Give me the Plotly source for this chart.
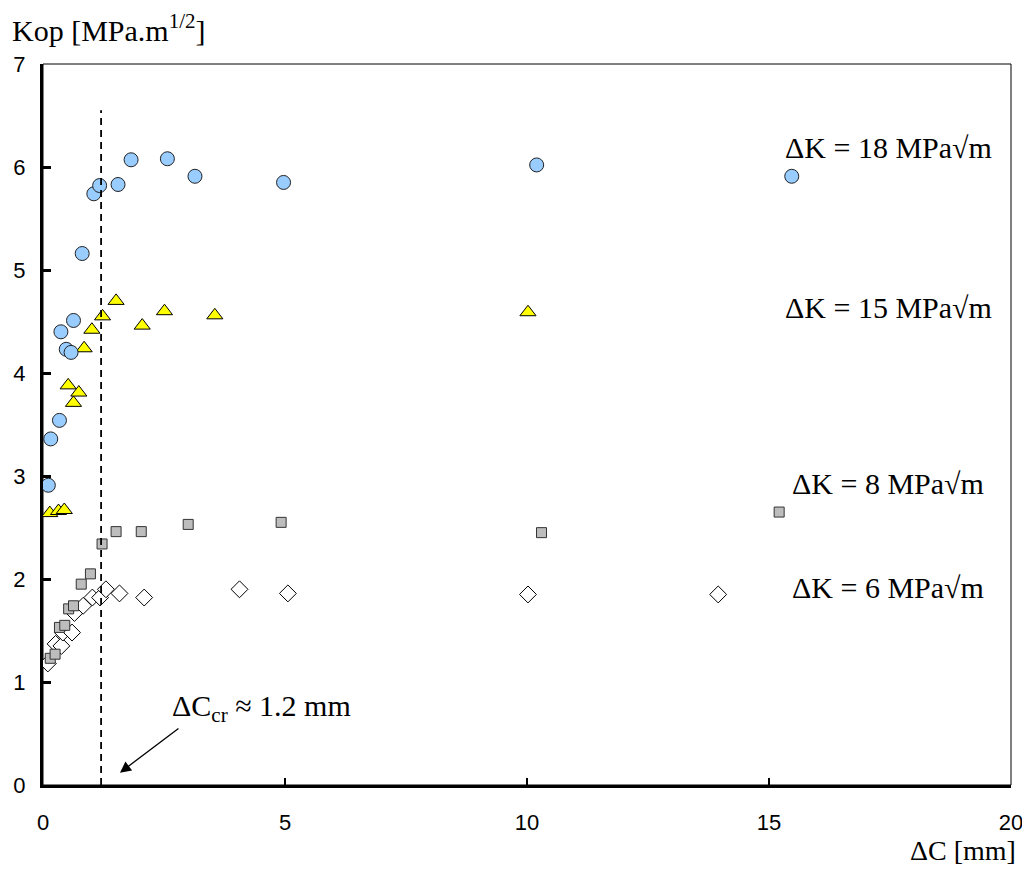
import plotly.graph_objects as go

# ---- data ----
dk18_x = [0.11, 0.16, 0.34, 0.37, 0.48, 0.58, 0.63, 0.81, 1.05, 1.17, 1.55, 1.82, 2.57, 3.14, 4.97, 10.2, 15.47]
dk18_y = [2.91, 3.36, 3.54, 4.40, 4.23, 4.20, 4.51, 5.16, 5.74, 5.82, 5.83, 6.07, 6.08, 5.91, 5.85, 6.02, 5.91]

dk15_x = [0.14, 0.32, 0.44, 0.52, 0.63, 0.74, 0.85, 1.01, 1.23, 1.51, 2.05, 2.51, 3.55, 10.02]
dk15_y = [2.64, 2.66, 2.67, 3.88, 3.71, 3.81, 4.24, 4.42, 4.55, 4.70, 4.46, 4.60, 4.56, 4.59]

dk8_x = [0.15, 0.25, 0.34, 0.45, 0.53, 0.63, 0.79, 0.98, 1.22, 1.51, 2.03, 3.00, 4.92, 10.3, 15.21]
dk8_y = [1.23, 1.27, 1.53, 1.55, 1.71, 1.74, 1.95, 2.05, 2.34, 2.46, 2.46, 2.53, 2.55, 2.45, 2.65]

dk6_x = [0.10, 0.26, 0.38, 0.41, 0.60, 0.65, 0.83, 1.02, 1.18, 1.30, 1.58, 2.09, 4.06, 5.06, 10.02, 13.95]
dk6_y = [1.18, 1.37, 1.35, 1.48, 1.48, 1.67, 1.74, 1.82, 1.82, 1.90, 1.86, 1.82, 1.90, 1.86, 1.85, 1.85]

series_labels = ["ΔK = 18 MPa√m", "ΔK = 15 MPa√m", "ΔK = 8 MPa√m", "ΔK = 6 MPa√m"]
label_y = [6.19, 4.64, 2.93, 1.92]

dc_cr = 1.2
x_ticks = [0, 5, 10, 15, 20]
y_ticks = [0, 1, 2, 3, 4, 5, 6, 7]

SERIF = "Liberation Serif, Times New Roman, serif"
SANS = "Liberation Sans, Arial, sans-serif"

fig = go.Figure()

fig.add_trace(go.Scatter(x=dk6_x, y=dk6_y, mode="markers",
                         marker=dict(symbol="diamond", size=13, color="white",
                                     line=dict(color="black", width=1))))
fig.add_trace(go.Scatter(x=dk8_x, y=dk8_y, mode="markers",
                         marker=dict(symbol="square", size=10, color="#BDBDBD",
                                     line=dict(color="#333333", width=1))))
fig.add_trace(go.Scatter(x=dk15_x, y=dk15_y, mode="markers",
                         marker=dict(symbol="triangle-up", size=14, color="#FFFF00",
                                     line=dict(color="black", width=1))))
fig.add_trace(go.Scatter(x=dk18_x, y=dk18_y, mode="markers",
                         marker=dict(symbol="circle", size=14, color="#99CCFF",
                                     line=dict(color="#222222", width=1))))

# critical crack extension dashed line
fig.add_trace(go.Scatter(x=[dc_cr, dc_cr], y=[0, 6.55], mode="lines",
                         line=dict(color="black", width=1.8, dash="7px,5px"),
                         hoverinfo="skip"))

# thin frame on top/right
fig.add_shape(type="rect", xref="paper", yref="paper", x0=0, y0=0, x1=1, y1=1,
              line=dict(color="black", width=1), layer="below")

for lab, ly in zip(series_labels, label_y):
    fig.add_annotation(x=17.46, y=ly, xref="x", yref="y", text=lab, showarrow=False,
                       xanchor="center", yanchor="middle",
                       font=dict(family=SERIF, size=30, color="black"))

fig.add_annotation(x=1.59, y=0.12, ax=2.83, ay=0.56, xref="x", yref="y",
                   axref="x", ayref="y", text="", showarrow=True,
                   arrowhead=2, arrowsize=1.7, arrowwidth=1.3, arrowcolor="black")
fig.add_annotation(x=4.52, y=0.75, xref="x", yref="y",
                   text="ΔC<sub>cr</sub> ≈ 1.2 mm", showarrow=False,
                   font=dict(family=SERIF, size=30, color="black"))

fig.add_annotation(x=-0.034, y=1.05, xref="paper", yref="paper",
                   text="Kop [MPa.m<sup>1/2</sup>]", showarrow=False,
                   xanchor="left", yanchor="middle",
                   font=dict(family=SERIF, size=30, color="black"))
fig.add_annotation(x=1.0072, y=-0.0905, xref="paper", yref="paper",
                   text="ΔC [mm]", showarrow=False,
                   xanchor="right", yanchor="middle",
                   font=dict(family=SERIF, size=28, color="black"))

fig.update_layout(
    width=1016, height=858,
    margin=dict(l=35, r=13, t=56, b=81, autoexpand=False),
    paper_bgcolor="white", plot_bgcolor="white",
    showlegend=False,
    xaxis=dict(range=[0, 20], tickvals=x_ticks, ticks="inside", ticklen=7, tickwidth=2,
               tickcolor="black", showline=True, linewidth=3, linecolor="black",
               showgrid=False, zeroline=False, ticklabelstandoff=16,
               ticklabeloverflow="allow",
               tickfont=dict(family=SANS, size=22, color="black")),
    yaxis=dict(range=[0, 7], tickvals=y_ticks, ticks="inside", ticklen=8, tickwidth=3,
               tickcolor="black", showline=True, linewidth=3, linecolor="black",
               showgrid=False, zeroline=False, ticklabelstandoff=10,
               ticklabeloverflow="allow",
               tickfont=dict(family=SANS, size=22, color="black")),
)

fig.write_html("out.html")
